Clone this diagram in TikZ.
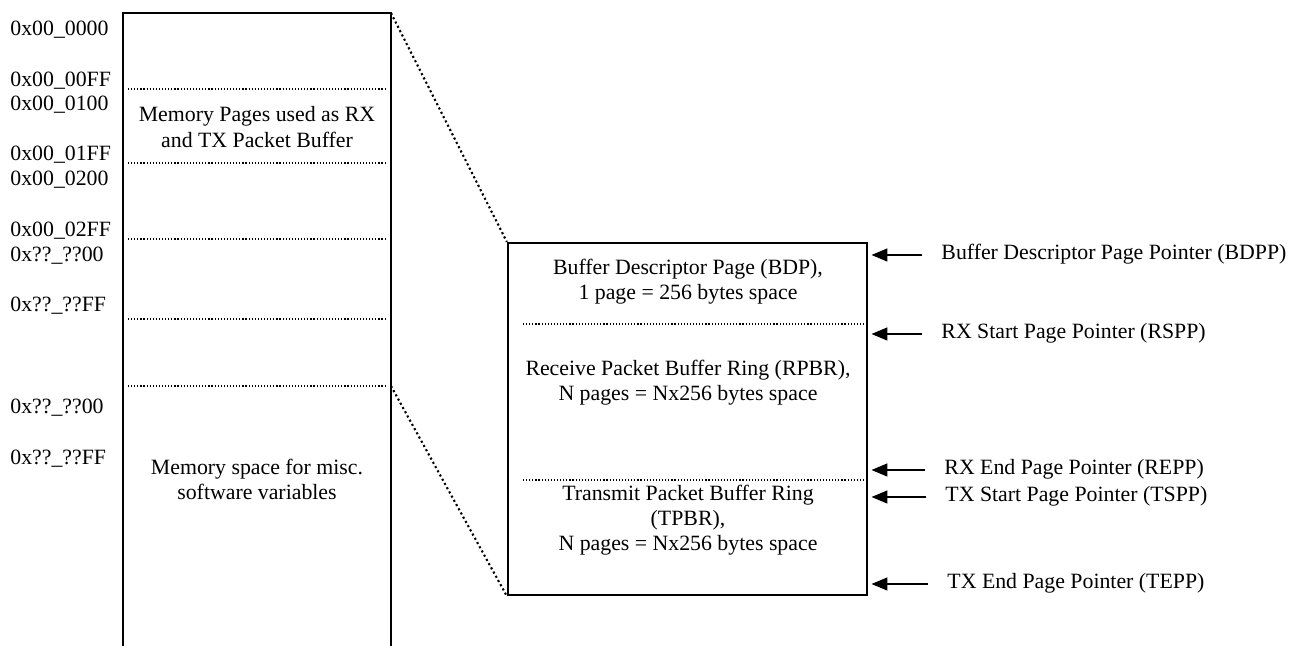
\documentclass[tikz,border=0pt]{standalone}
\usepackage{fontspec}
\setmainfont{Liberation Serif}
\usetikzlibrary{arrows.meta,positioning,fit}
\definecolor{ink}{HTML}{000000}
\newcommand{\memfont}{\fontsize{12}{13.8}\selectfont}
\tikzset{
  wall/.style={draw=ink,line width=1.25pt},
  sepline/.style={draw=ink,line width=0.65pt,dash pattern=on 0.65pt off 1.05pt},
  zoomline/.style={draw=ink,line width=1.15pt,dash pattern=on 1.15pt off 1.5pt},
  addr/.style={anchor=west,inner sep=0pt,text height=8pt,text depth=0pt,
               yshift=-1.1pt,font=\memfont},
  memtext/.style={align=center,inner sep=0pt,yshift=-1.1pt,font=\memfont},
  ptrlabel/.style={anchor=west,inner xsep=10.5pt,inner ysep=0pt,
                   text height=8pt,text depth=2.6pt,yshift=-1.1pt,font=\memfont},
  ptrarr/.style={-{Triangle[length=8.8pt,width=7pt]},line width=1.2pt,
                 draw=ink,shorten >=1.8pt}
}
\begin{document}
\begin{tikzpicture}[x=0.55pt,y=-0.55pt]
    \useasboundingbox (0,0) rectangle (1293,646);

    % memory map, open at the bottom
    \coordinate (memtl) at (123,13);
    \coordinate (memtr) at (391,13);
    \coordinate (miscbeg) at (391,386);
    \draw[wall] (123,646) -- (memtl) -- (memtr) -- (391,646);
    \foreach \yy in {89,163,239,319,386}
      \draw[sepline] (128,\yy) -- (386,\yy);

    \foreach \yy/\txt [count=\i] in {26/0x00\_0000,77/0x00\_00FF,
        101/0x00\_0100,151/0x00\_01FF,176/0x00\_0200,227/0x00\_02FF,
        252/0x??\_??00,302/0x??\_??FF,404/0x??\_??00,455/0x??\_??FF}
      \node[addr] (addr\i) at (10,\yy) {\txt};

    \node[memtext] (pktbuf) at (257,125)
      {Memory Pages used as RX\\and TX Packet Buffer};
    \node[memtext] (miscvar) at (257,477)
      {Memory space for misc.\\software variables};

    % buffer descriptor page and the two rings
    \coordinate (rnw) at (508,243);
    \coordinate (rse) at (867,595);
    \node[wall,fit=(rnw)(rse),inner sep=0pt] (rbox) {};
    \draw[sepline] (523,324) -- (866,324);
    \draw[sepline] (523,480) -- (866,480);

    \node[memtext] (bdp) at (688,280)
      {Buffer Descriptor Page (BDP),\\1 page = 256 bytes space};
    \node[memtext] (rpbr) at (688,381)
      {Receive Packet Buffer Ring (RPBR),\\N pages = Nx256 bytes space};
    \node[memtext] (tpbr) at (688,518)
      {Transmit Packet Buffer Ring\\(TPBR),\\N pages = Nx256 bytes space};

    \draw[zoomline] (memtr) -- (rbox.north west);
    \draw[zoomline] (miscbeg) -- (rbox.south west);

    % page pointers
    \node[ptrlabel] (bdpp) at (922,253) {Buffer Descriptor Page Pointer (BDPP)};
    \node[ptrlabel] (rspp) at (922,332) {RX Start Page Pointer (RSPP)};
    \node[ptrlabel] (repp) at (925,468) {RX End Page Pointer (REPP)};
    \node[ptrlabel] (tspp) at (926,495) {TX Start Page Pointer (TSPP)};
    \node[ptrlabel] (tepp) at (928,582) {TX End Page Pointer (TEPP)};
    \foreach \p in {bdpp,rspp,repp,tspp,tepp}
      \draw[ptrarr] (\p.west) -- (\p.west -| rbox.east);
  \end{tikzpicture}
\end{document}
